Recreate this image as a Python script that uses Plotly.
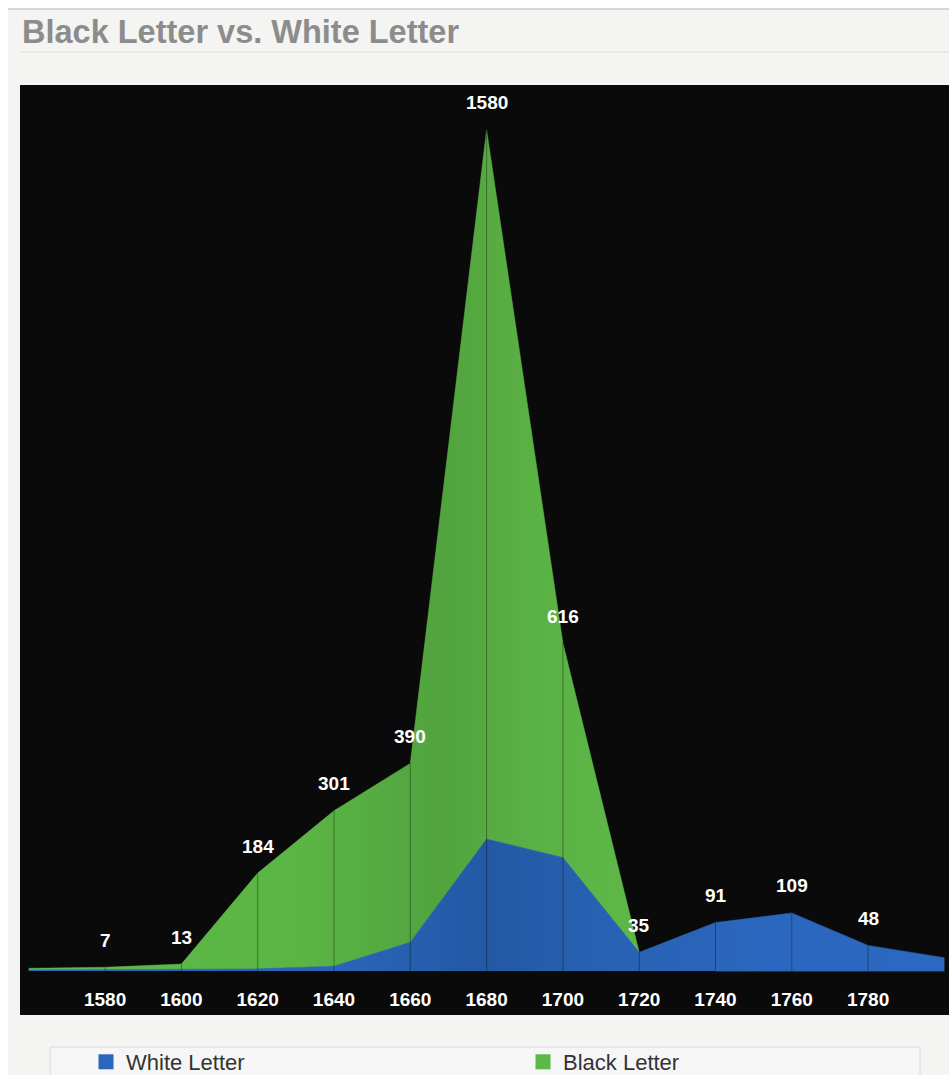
import plotly.graph_objects as go

years = [1560, 1580, 1600, 1620, 1640, 1660, 1680, 1700, 1720, 1740, 1760, 1780, 1800]
black_letter = [5, 7, 13, 184, 301, 390, 1580, 616, 35, 0, 0, 0, 0]
white_letter = [2, 3, 4, 4, 9, 54, 248, 213, 35, 91, 109, 48, 25]
tick_years = [1580, 1600, 1620, 1640, 1660, 1680, 1700, 1720, 1740, 1760, 1780]

GREEN = "#5cb947"
BLUE = "#2a66bd"
FONT = "Liberation Sans, Arial, sans-serif"

# figure geometry: the page body gets margin 0 (see post_script), so the
# figure covers the whole 949x1075 window
W, H = 949, 1075
ML, MR, MT, MB = 20, 0, 85, 14
PH = H - MT - MB          # plot-area height in px
PW = W - ML - MR


def py(Y):
    """page pixel row -> paper y"""
    return (H - MB - Y) / PH


def px(X):
    """page pixel column -> paper x"""
    return (X - ML) / PW


fig = go.Figure()

fig.add_trace(go.Scatter(
    x=years, y=black_letter, mode="lines", fill="tozeroy",
    line=dict(width=0.5, color=GREEN),
    fillgradient=dict(type="horizontal", colorscale=[
        [0.0, "#5fbc49"], [0.3, "#5ab544"], [0.45, "#52a33e"],
        [0.55, "#5ab144"], [0.7, "#5fba48"], [1.0, "#5fbc49"]]),
    showlegend=False, hoverinfo="x+y", name="Black Letter"))

fig.add_trace(go.Scatter(
    x=years, y=white_letter, mode="lines", fill="tozeroy",
    line=dict(width=0.5, color=BLUE),
    fillgradient=dict(type="horizontal", colorscale=[
        [0.0, "#2b68c0"], [0.35, "#2a64b8"], [0.5, "#2359a4"],
        [0.62, "#2861b2"], [0.8, "#2b67be"], [1.0, "#2b68c0"]]),
    showlegend=False, hoverinfo="x+y", name="White Letter"))

# vertical divider lines at each interior point
vx, vy = [], []
for yr, b, w in zip(years, black_letter, white_letter):
    if yr in tick_years:
        vx += [yr, yr, None]
        vy += [0, max(b, w), None]
fig.add_trace(go.Scatter(x=vx, y=vy, mode="lines",
                         line=dict(color="rgba(0,0,0,0.35)", width=1),
                         hoverinfo="skip", showlegend=False))

# legend entries (two separate legends to place them like the reference)
fig.add_trace(go.Scatter(x=[None], y=[None], mode="markers", name="White Letter",
                         marker=dict(symbol="square", size=15, color=BLUE),
                         legend="legend"))
fig.add_trace(go.Scatter(x=[None], y=[None], mode="markers", name="Black Letter",
                         marker=dict(symbol="square", size=15, color=GREEN),
                         legend="legend2"))

# value labels
for yr, b, w in zip(years, black_letter, white_letter):
    if yr in tick_years:
        v = max(b, w)
        fig.add_annotation(x=yr, y=v, text=str(v), showarrow=False, yshift=27,
                           font=dict(family=FONT, size=19, color="white", weight="bold"))

legend_font = dict(family=FONT, size=22, color="#333333")

fig.update_layout(
    width=W, height=H,
    margin=dict(l=ML, r=MR, t=MT, b=MB, autoexpand=False),
    paper_bgcolor="#f4f4f2",
    plot_bgcolor="rgba(0,0,0,0)",
    title=dict(text="<b>Black Letter vs. White Letter</b>", x=22 / W, xref="container",
               xanchor="left", y=1 - 32 / H, yref="container", yanchor="middle",
               font=dict(family=FONT, size=32.5, color="#8c8c8c")),
    xaxis=dict(range=[1557.7, 1801.2], tickvals=tick_years, showgrid=False,
               zeroline=False, showline=False, ticks="", anchor="free",
               position=py(985.5),
               tickfont=dict(family=FONT, size=19, color="white", weight="bold"),
               fixedrange=True),
    yaxis=dict(range=[-(H - MB - 971) / 0.5323, (971 - MT) / 0.5323], visible=False,
               showgrid=False, zeroline=False, fixedrange=True),
    showlegend=True,
    legend=dict(orientation="h", x=px(86), xanchor="left", y=py(1062), yanchor="middle",
                bgcolor="rgba(0,0,0,0)", font=legend_font),
    legend2=dict(orientation="h", x=px(523), xanchor="left", y=py(1062), yanchor="middle",
                 bgcolor="rgba(0,0,0,0)", font=legend_font),
    shapes=[
        # white page edge (left and top strips)
        dict(type="rect", xref="paper", yref="paper", x0=px(-2), x1=px(8),
             y0=py(H + 2), y1=py(-2), fillcolor="#ffffff", line=dict(width=0),
             layer="below"),
        dict(type="rect", xref="paper", yref="paper", x0=px(-2), x1=px(W + 2),
             y0=py(8), y1=py(-2), fillcolor="#ffffff", line=dict(width=0),
             layer="below"),
        # black chart panel
        dict(type="rect", xref="paper", yref="paper", x0=0, x1=1,
             y0=py(1015), y1=1, fillcolor="#0a0a0a", line=dict(width=0),
             layer="below"),
        # header rules
        dict(type="line", xref="paper", yref="paper", x0=px(8), x1=1.0,
             y0=py(9), y1=py(9), line=dict(color="#cdcdcd", width=1.5)),
        dict(type="line", xref="paper", yref="paper", x0=0, x1=1.0,
             y0=py(52), y1=py(52), line=dict(color="#dcdcdc", width=1)),
        # legend box
        dict(type="rect", xref="paper", yref="paper", x0=px(50), x1=px(920),
             y0=py(1093), y1=py(1047),
             fillcolor="#f6f6f6", line=dict(color="#dadada", width=1), layer="below"),
    ],
)

fig.write_html(
    "out.html",
    config={"displayModeBar": False},
    post_script="document.body.style.margin='0';"
                "document.documentElement.style.overflow='hidden';"
                "document.body.style.overflow='hidden';",
)
